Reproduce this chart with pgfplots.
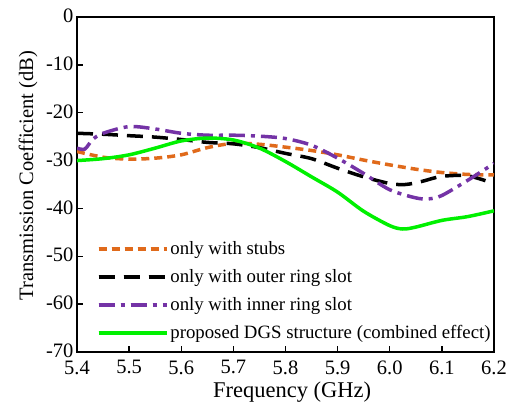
\documentclass[border=0pt]{standalone}
\usepackage{pgfplots}
\pgfplotsset{compat=1.18}
\usetikzlibrary{calc}
\usepackage{fontspec}
\setmainfont{Liberation Serif}
\definecolor{cOrange}{HTML}{E06A1B}
\definecolor{cPurple}{HTML}{7433A6}
\definecolor{cGreen}{HTML}{00F000}
\begin{document}
\begin{tikzpicture}
\begin{axis}[
  name=ax,
  width=417pt, height=335pt, scale only axis,
  xmin=5.4, xmax=6.2, ymin=-70, ymax=0,
  xtick={5.4,5.5,5.6,5.7,5.8,5.9,6.0,6.1,6.2},
  xticklabels={5.4,5.5,5.6,5.7,5.8,5.9,6.0,6.1,6.2},
  ytick={-70,-60,-50,-40,-30,-20,-10,0},
  yticklabels={-70,-60,-50,-40,-30,-20,-10,0},
  tick pos=left, tick align=inside,
  major tick length=6pt,
  axis line style={line width=1.6pt},
  every tick/.style={line width=1.4pt, black},
  ticklabel style={font=\fontsize{20.5}{24}\selectfont},
  xticklabel style={yshift=-5pt},
  yticklabel style={yshift=1pt},
  xlabel={Frequency (GHz)},
  ylabel={Transmission Coefficient (dB)},
  xlabel style={font=\fontsize{22.5}{26}\selectfont, at={(axis description cs:0.516,-0.135)}, anchor=base},
  ylabel style={font=\fontsize{20.5}{24}\selectfont, at={(axis description cs:-0.1055,0.527)}, anchor=base},
  legend style={at={(0.04,0.342)}, anchor=north west, draw=none, fill=none,
    font=\fontsize{18.8}{22}\selectfont, row sep=9.5pt},
  legend cell align=left,
  legend image code/.code={\draw[#1] (0pt,0pt) -- (61pt,0pt); \path (0pt,0pt) -- (68pt,0pt);},
]
\addplot[cOrange, line width=3.5pt, dash pattern=on 8pt off 5pt, smooth] coordinates {
(5.40,-28.1) (5.45,-29.3) (5.50,-29.7) (5.55,-29.5) (5.60,-28.8) (5.65,-27.3)
(5.70,-26.4) (5.75,-26.6) (5.80,-27.2) (5.85,-27.9) (5.90,-28.8) (5.95,-29.9)
(6.00,-30.9) (6.05,-31.8) (6.10,-32.5) (6.15,-32.9) (6.20,-33.0)};
\addlegendentry{only with stubs}
\addplot[black, line width=3.5pt, dash pattern=on 16pt off 9pt, smooth] coordinates {
(5.40,-24.3) (5.45,-24.5) (5.50,-24.8) (5.55,-25.1) (5.60,-25.6) (5.65,-26.2)
(5.70,-26.5) (5.75,-27.3) (5.80,-28.5) (5.85,-29.6) (5.90,-31.6) (5.95,-33.4)
(6.00,-34.8) (6.03,-35.0) (6.06,-34.4) (6.10,-33.3) (6.15,-33.2) (6.20,-34.8)};
\addlegendentry{only with outer ring slot}
\addplot[cPurple, line width=3.5pt, dash pattern=on 16pt off 6pt on 4pt off 6pt, smooth] coordinates {
(5.40,-27.4) (5.415,-27.6) (5.43,-25.6) (5.45,-24.3) (5.50,-22.9) (5.55,-23.4)
(5.60,-24.3) (5.65,-24.7) (5.70,-24.7) (5.75,-24.9) (5.80,-25.4) (5.85,-26.8)
(5.90,-29.5) (5.95,-32.7) (6.00,-36.1) (6.05,-37.8) (6.075,-38.0) (6.10,-37.3)
(6.15,-34.1) (6.20,-30.6)};
\addlegendentry{only with inner ring slot}
\addplot[cGreen, line width=3.5pt, smooth] coordinates {
(5.40,-30.0) (5.45,-29.6) (5.50,-28.8) (5.55,-27.4) (5.60,-25.9) (5.65,-25.3)
(5.70,-25.7) (5.75,-27.4) (5.80,-30.2) (5.85,-33.4) (5.90,-36.6) (5.95,-40.6)
(6.00,-43.6) (6.025,-44.3) (6.05,-43.9) (6.10,-42.5) (6.15,-41.7) (6.20,-40.5)};
\addlegendentry{proposed DGS structure (combined effect)}
\end{axis}
\pgfresetboundingbox
\path ($(ax.south west)+(-77pt,-50pt)$) rectangle ($(ax.north east)+(19pt,17pt)$);
\end{tikzpicture}
\end{document}
